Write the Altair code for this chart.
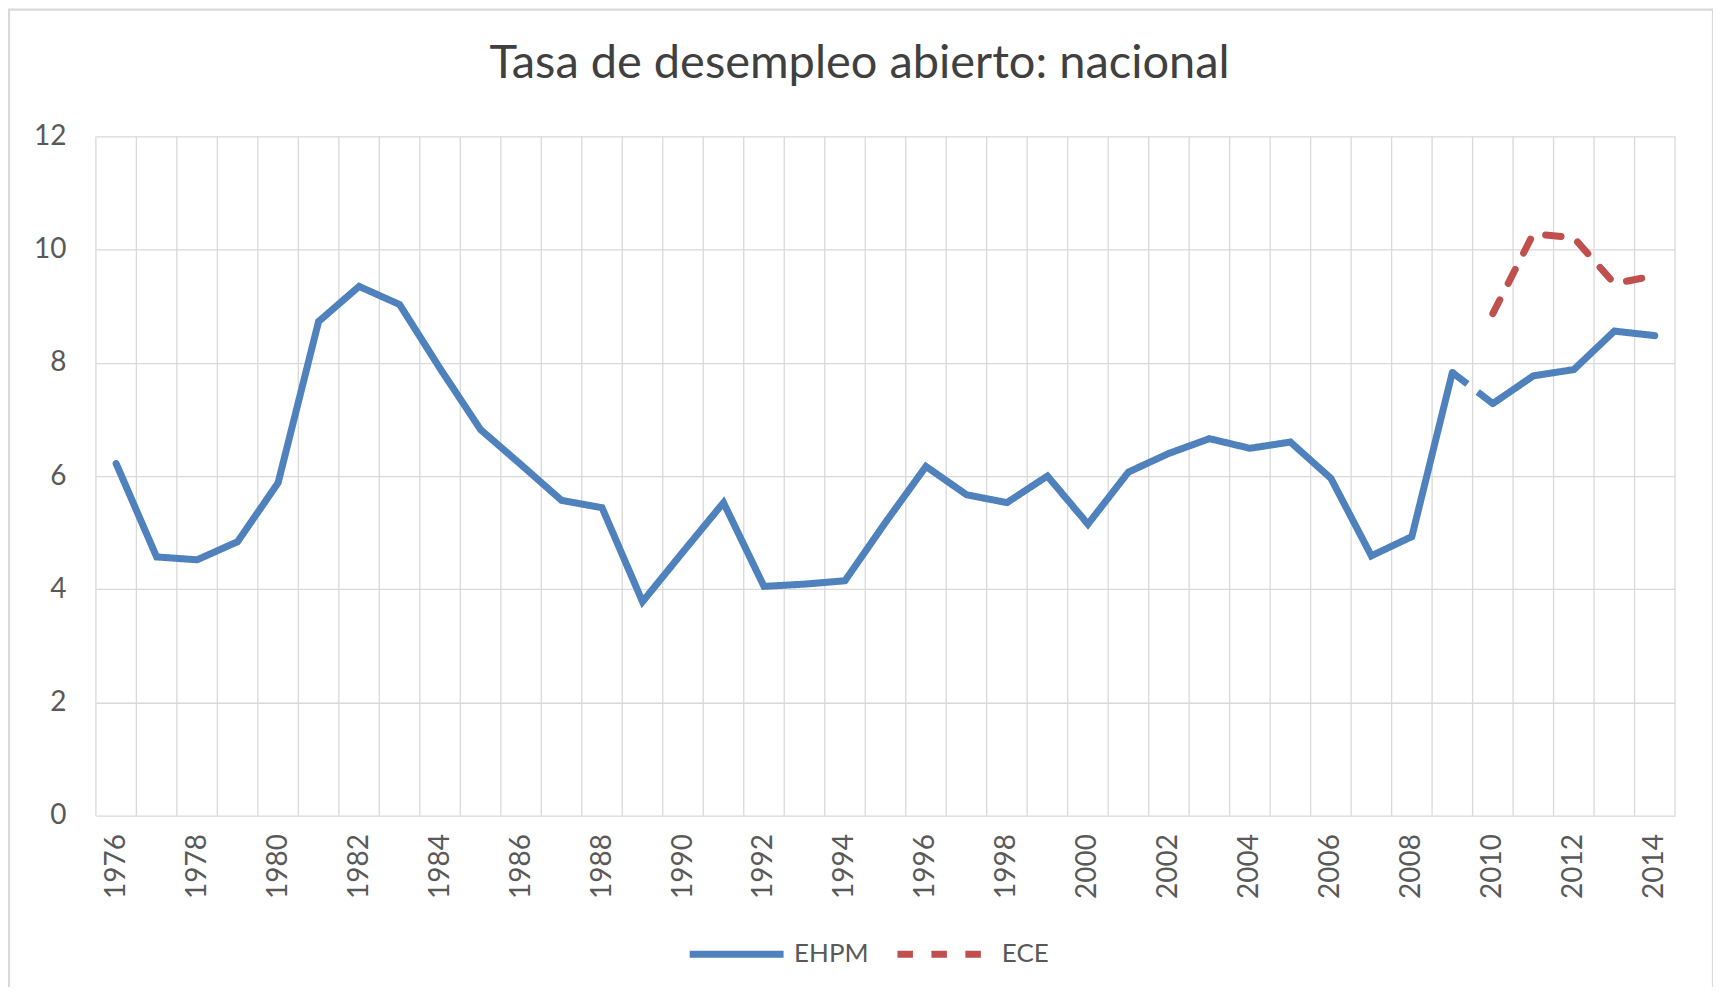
import altair as alt
import pandas as pd

# ---- data ----
years = list(range(1976, 2015))
ehpm = [6.22, 4.57, 4.52, 4.84, 5.88, 8.73, 9.35, 9.03, 7.90, 6.82,
        6.20, 5.57, 5.44, 3.78, 4.66, 5.53, 4.05, 4.09, 4.15, 5.18,
        6.17, 5.67, 5.53, 6.00, 5.15, 6.07, 6.40, 6.66, 6.49, 6.60,
        5.96, 4.59, 4.93, 7.83, 7.28, 7.77, 7.88, 8.56, 8.48]
ece_years = [2010, 2011, 2012, 2013, 2014]
ece = [8.87, 10.28, 10.21, 9.40, 9.54]
break_after = 2009          # EHPM methodological break between 2009 and 2010
series_names = ["EHPM", "ECE"]
y_ticks = [0, 2, 4, 6, 8, 10, 12]
x_labels = [y for y in years if y % 2 == 0]
title_text = "Tasa de desempleo abierto: nacional"

BLUE = "#4F81BD"
RED = "#C0504D"
GRID = "#D9D9D9"
FONT = "Lato"
LW = 7

W, H = 1581, 680

rows = []
for y, v in zip(years, ehpm):
    rows.append({"year": y, "value": v, "series": "EHPM",
                 "segment": "EHPM-a" if y <= break_after else "EHPM-b"})
for y, v in zip(ece_years, ece):
    rows.append({"year": y, "value": v, "series": "ECE", "segment": "ECE"})
df = pd.DataFrame(rows)

i0 = years.index(break_after)
df_gap = pd.DataFrame({"year": years[i0:i0 + 2], "value": ehpm[i0:i0 + 2]})

grid_x = [y - 0.5 for y in years] + [years[-1] + 0.5]
df_grid = pd.DataFrame({"year": grid_x})

x_scale = alt.Scale(domain=[years[0] - 0.5, years[-1] + 0.5], nice=False, zero=False)
y_scale = alt.Scale(domain=[0, 12], nice=False)
x_axis = alt.Axis(values=x_labels, format="d", labelAngle=-90, grid=False,
                  ticks=False, domain=False, labelPadding=18,
                  labelFontSize=28, labelFont=FONT, labelColor="#595959")
y_axis = alt.Axis(values=y_ticks, format="d", grid=True, gridColor=GRID, gridWidth=1.3,
                  ticks=False, domain=False, labelPadding=30,
                  labelFontSize=28, labelFont=FONT, labelColor="#595959")
X = lambda: alt.X("year:Q", scale=x_scale, axis=x_axis, title=None)

vgrid = alt.Chart(df_grid).mark_rule(color=GRID, strokeWidth=1.3).encode(
    x=X(),
    y=alt.datum(0),
    y2=alt.datum(12),
)

lines = alt.Chart(df).mark_line(strokeWidth=LW, strokeCap="round").encode(
    x=X(),
    y=alt.Y("value:Q", scale=y_scale, axis=y_axis, title=None),
    color=alt.Color("series:N", scale=alt.Scale(domain=series_names, range=[BLUE, RED]),
                    legend=alt.Legend(title=None, symbolStrokeWidth=LW)),
    strokeDash=alt.StrokeDash("series:N",
                              scale=alt.Scale(domain=series_names, range=[[1, 0], [15.5, 18.5]]),
                              legend=alt.Legend(title=None, symbolStrokeWidth=LW)),
    detail="segment:N",
)

gap = alt.Chart(df_gap).mark_line(strokeWidth=LW, color=BLUE, strokeDash=[19, 13],
                                  strokeCap="butt").encode(
    x=X(),
    y=alt.Y("value:Q", scale=y_scale, axis=y_axis, title=None),
)

border = alt.Chart(pd.DataFrame({"a": [0]})).mark_rect(
    filled=False, stroke=GRID, strokeWidth=2.2).encode(
    x=alt.value(-87), x2=alt.value(W + 38),
    y=alt.value(-127), y2=alt.value(H + 260),
)

chart = alt.layer(border, vgrid, lines, gap).properties(
    width=W, height=H,
    title=alt.TitleParams(title_text, fontSize=47, font=FONT, fontWeight="normal",
                          color="#404040", anchor="middle", dx=-26, offset=-80),
    autosize=alt.AutoSizeParams(type="none"),
    padding={"left": 88, "top": 128, "right": 38, "bottom": 171},
).configure_view(stroke=None).configure_legend(
    orient="none", legendX=591, legendY=768, direction="horizontal",
    symbolType="stroke", symbolSize=8836, symbolStrokeWidth=LW,
    labelFontSize=26, labelFont=FONT, labelColor="#595959",
    columnPadding=14, labelOffset=7, padding=0,
)

chart.save("out.html", embed_options={"renderer": "svg", "actions": False})
